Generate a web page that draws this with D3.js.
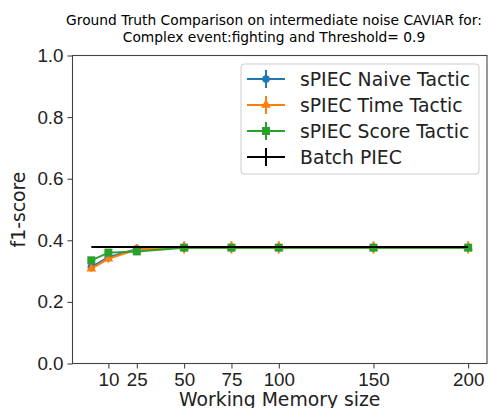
<!DOCTYPE html>
<html>
<head>
<meta charset="utf-8">
<script src="https://cdn.jsdelivr.net/npm/d3@7"></script>
<style>
  body { margin: 0; background: #fff; }
  svg { font-family: "DejaVu Sans", sans-serif; }
</style>
</head>
<body>
<div id="chart"></div>
<script>
// data
var memSizes = [1, 10, 25, 50, 75, 100, 150, 200];
var xTicks = [10, 25, 50, 75, 100, 150, 200];
var yTicks = [0, 0.2, 0.4, 0.6, 0.8, 1.0];

var naiveF1 = [0.313, 0.345, 0.372, 0.377, 0.377, 0.377, 0.377, 0.377];
var naiveErr = [0.008, 0.010, 0.012, 0.012, 0.012, 0.012, 0.012, 0.012];
var timeF1 = [0.308, 0.340, 0.370, 0.377, 0.377, 0.377, 0.377, 0.377];
var timeErr = [0.010, 0.012, 0.018, 0.020, 0.020, 0.020, 0.020, 0.020];
var scoreF1 = [0.335, 0.360, 0.364, 0.376, 0.376, 0.376, 0.376, 0.376];
var scoreErr = [0.005, 0.006, 0.006, 0.006, 0.006, 0.006, 0.006, 0.006];
var batchF1 = [0.378, 0.378, 0.378, 0.378, 0.378, 0.378, 0.378, 0.378];

var seriesNames = ["sPIEC Naive Tactic", "sPIEC Time Tactic", "sPIEC Score Tactic", "Batch PIEC"];
var colors = ["#1f77b4", "#ff7f0e", "#2ca02c", "#000000"];
var markers = ["circle", "triangle", "square", "none"];

var width = 490, height = 408;
var margin = { top: 55.5, right: 3, bottom: 44.5, left: 72.5 };
var innerW = width - margin.left - margin.right;
var innerH = height - margin.top - margin.bottom;
var bigFont = '18.8px';

var svg = d3.select('#chart').append('svg')
  .attr('width', width)
  .attr('height', height);

// title
svg.append('text').attr('x', 274).attr('y', 25).attr('text-anchor', 'middle')
  .style('font-size', '13.8px').attr('fill', '#000')
  .text('Ground Truth Comparison on intermediate noise CAVIAR for:');
svg.append('text').attr('x', 274).attr('y', 42).attr('text-anchor', 'middle')
  .style('font-size', '13.8px').attr('fill', '#000')
  .text('Complex event:fighting and Threshold= 0.9');

var g = svg.append('g')
  .attr('transform', 'translate(' + margin.left + ',' + margin.top + ')');

var xPad = (200 - 1) * 0.05;
var x = d3.scaleLinear().domain([1 - xPad, 200 + xPad]).range([0, innerW]);
var y = d3.scaleLinear().domain([0, 1]).range([innerH, 0]);

// axes
var xAxis = g.append('g')
  .attr('transform', 'translate(0,' + innerH + ')')
  .call(d3.axisBottom(x).tickValues(xTicks).tickSize(5).tickPadding(4).tickFormat(d3.format('d')));
var yAxis = g.append('g')
  .call(d3.axisLeft(y).tickValues(yTicks).tickSize(5).tickPadding(4).tickFormat(d3.format('.1f')));
[xAxis, yAxis].forEach(function (a) {
  a.select('.domain').remove();
  a.selectAll('line').attr('stroke', '#333').attr('stroke-width', 1);
  a.selectAll('text').style('font-size', bigFont).attr('fill', '#222');
});

// frame
g.append('rect').attr('x', 0).attr('y', 0).attr('width', innerW).attr('height', innerH)
  .attr('fill', 'none').attr('stroke', '#444').attr('stroke-width', 1.1);

// axis labels
svg.append('text').attr('x', margin.left + innerW / 2).attr('y', 406)
  .attr('text-anchor', 'middle').style('font-size', bigFont).attr('fill', '#222')
  .text('Working Memory size');
svg.append('text')
  .attr('transform', 'translate(24.5,' + (margin.top + innerH / 2) + ') rotate(-90)')
  .attr('text-anchor', 'middle').style('font-size', bigFont).attr('fill', '#222')
  .text('f1-score');

var allSeries = [
  { vals: naiveF1, err: naiveErr },
  { vals: timeF1, err: timeErr },
  { vals: scoreF1, err: scoreErr },
  { vals: batchF1, err: null }
];

var line = d3.line()
  .x(function (d) { return x(d[0]); })
  .y(function (d) { return y(d[1]); });

function drawMarker(sel, type, color, cx, cy) {
  if (type === 'circle') {
    sel.append('circle').attr('cx', cx).attr('cy', cy).attr('r', 3.8).attr('fill', color);
  } else if (type === 'triangle') {
    sel.append('path').attr('transform', 'translate(' + cx + ',' + cy + ')')
      .attr('d', d3.symbol().type(d3.symbolTriangle).size(42)()).attr('fill', color);
  } else if (type === 'square') {
    sel.append('rect').attr('x', cx - 4).attr('y', cy - 4).attr('width', 8).attr('height', 8)
      .attr('fill', color);
  }
}

allSeries.forEach(function (s, i) {
  var pts = memSizes.map(function (m, j) { return [m, s.vals[j]]; });
  var sg = g.append('g');
  sg.append('path').datum(pts).attr('d', line)
    .attr('fill', 'none').attr('stroke', colors[i]).attr('stroke-width', 2);
  if (s.err) {
    pts.forEach(function (p, j) {
      sg.append('line')
        .attr('x1', x(p[0])).attr('x2', x(p[0]))
        .attr('y1', y(p[1] - s.err[j])).attr('y2', y(p[1] + s.err[j]))
        .attr('stroke', colors[i]).attr('stroke-width', 2);
    });
  }
  pts.forEach(function (p) {
    drawMarker(sg, markers[i], colors[i], x(p[0]), y(p[1]));
  });
});

// legend
var lg = svg.append('g').attr('transform', 'translate(241,64)');
lg.append('rect').attr('width', 238).attr('height', 110).attr('rx', 3)
  .attr('fill', 'rgba(255,255,255,0.8)').attr('stroke', '#ccc').attr('stroke-width', 1);
seriesNames.forEach(function (name, i) {
  var cy = 15 + i * 26;
  var row = lg.append('g');
  row.append('line').attr('x1', 6).attr('x2', 44).attr('y1', cy).attr('y2', cy)
    .attr('stroke', colors[i]).attr('stroke-width', 2);
  row.append('line').attr('x1', 25).attr('x2', 25).attr('y1', cy - 9).attr('y2', cy + 9)
    .attr('stroke', colors[i]).attr('stroke-width', 2);
  drawMarker(row, markers[i], colors[i], 25, cy);
  row.append('text').attr('x', 59).attr('y', cy + 7)
    .style('font-size', bigFont).attr('fill', '#222').text(name);
});
</script>
</body>
</html>
